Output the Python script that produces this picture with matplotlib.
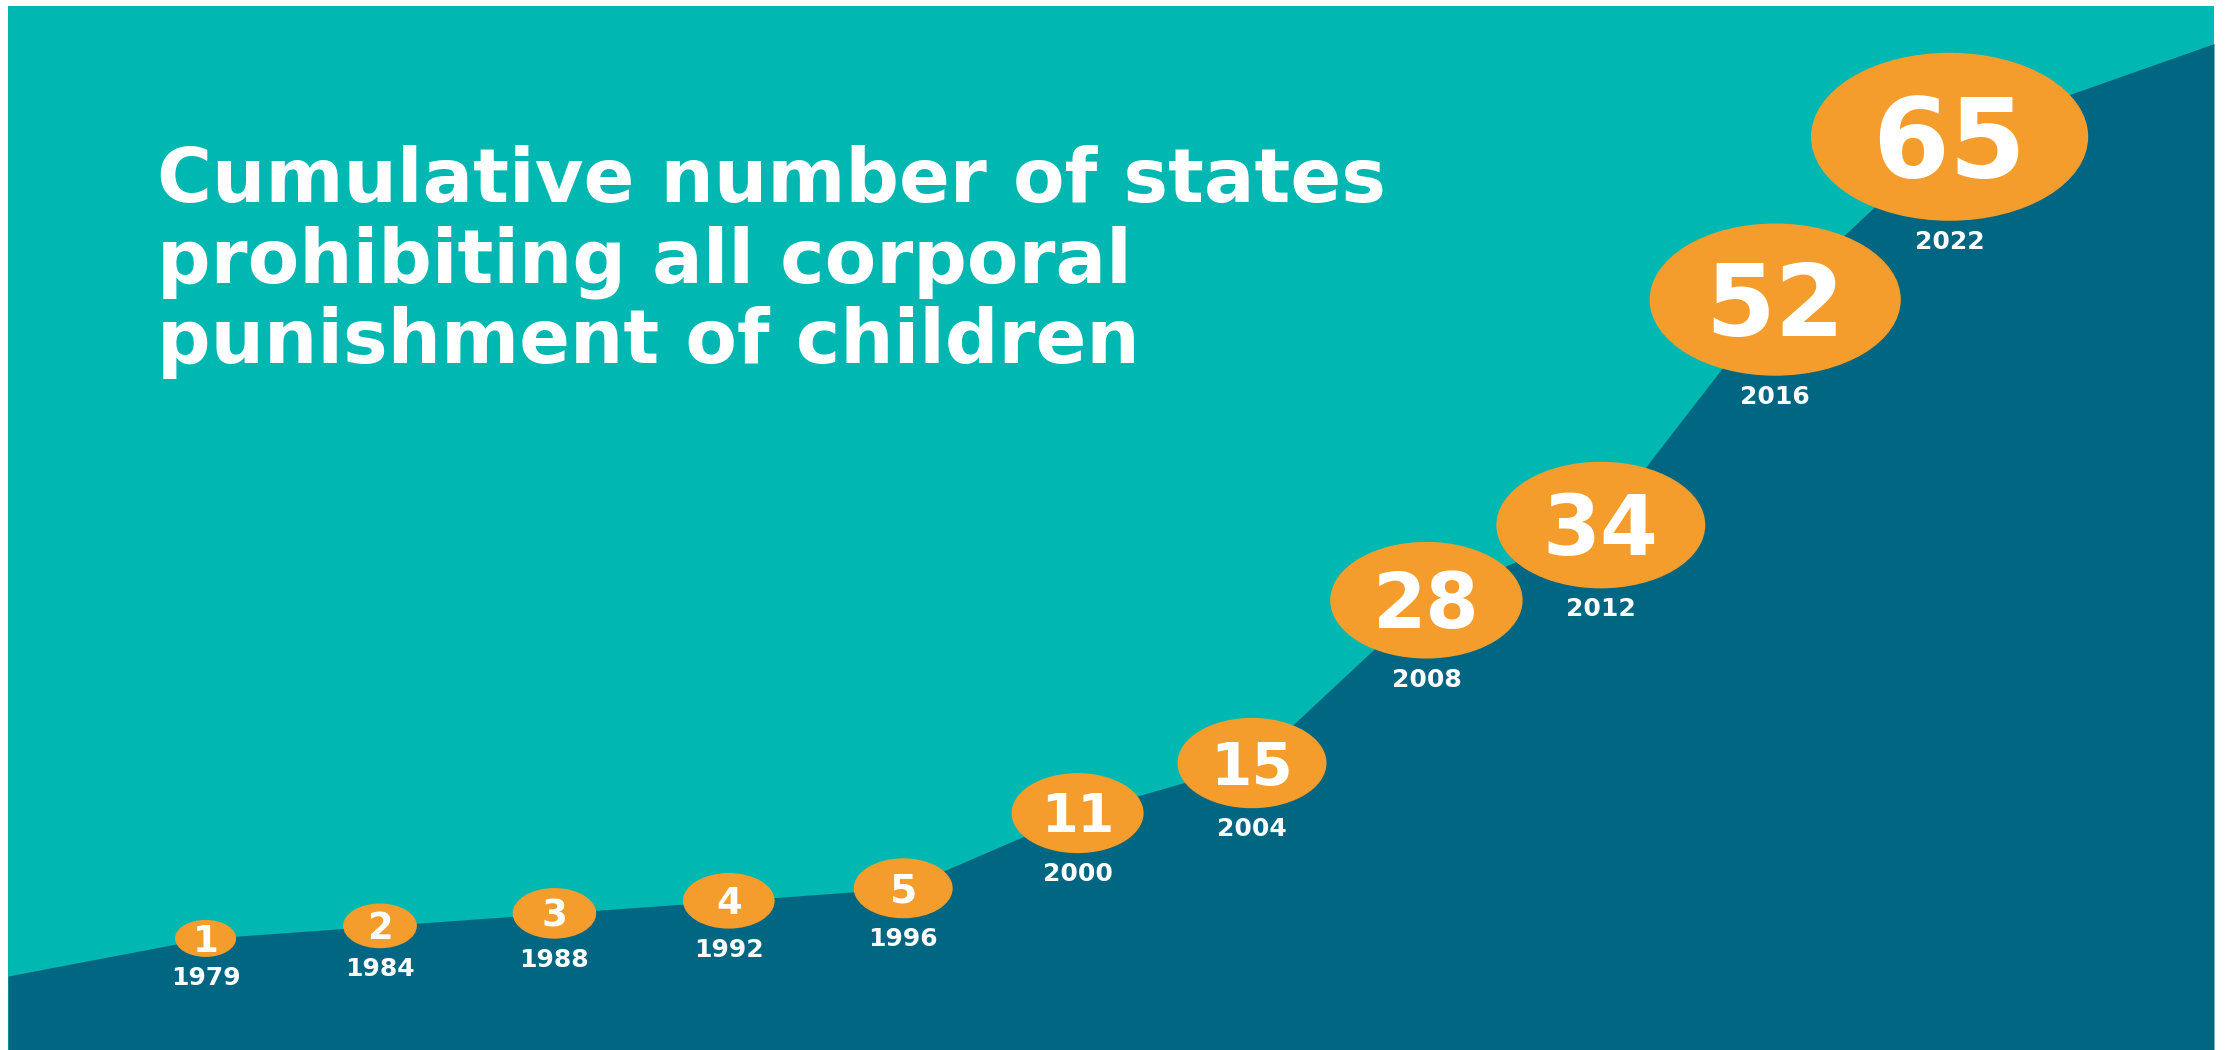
import numpy as np
import matplotlib.pyplot as plt
from matplotlib.patches import Ellipse

years = [1979, 1984, 1988, 1992, 1996, 2000, 2004, 2008, 2012, 2016, 2022]
states = [1, 2, 3, 4, 5, 11, 15, 28, 34, 52, 65]
title_lines = ['Cumulative number of states',
               'prohibiting all corporal',
               'punishment of children']

teal = '#00b8b1'
dark = '#006681'
orange = '#f59d2c'

W, H = 2227, 1050
fig = plt.figure(figsize=(W / 100, H / 100), dpi=100, facecolor='white')
ax = fig.add_axes([8 / W, 0, (2214 - 8) / W, (H - 6) / H])
ax.set_facecolor(teal)
for s in ax.spines.values():
    s.set_visible(False)
ax.set_xticks([])
ax.set_yticks([])

x = np.arange(len(states))
xlo, xhi = -1.133, 11.516
ylo, yhi = -7.91, 75.44
ax.set_xlim(xlo, xhi)
ax.set_ylim(ylo, yhi)

# dark area under the curve; the curve starts a bit under the first point
# and ends just below the top right corner
xs = np.concatenate([[xlo], x, [xhi]])
ys = np.concatenate([[states[0] - 3], states, [yhi - 3]])
ax.fill_between(xs, ys, ylo, color=dark, lw=0, zorder=1)

# pixels per data unit, to keep the bubbles a fixed shape on screen
bb = ax.get_window_extent()
sx = bb.width / (xhi - xlo)
sy = bb.height / (yhi - ylo)

for i, (yr, v) in enumerate(zip(years, states)):
    w = 30.5 + 30.6 * np.sqrt(v)   # bubble grows with sqrt of count
    h = w / 1.65
    ax.add_patch(Ellipse((x[i], v), w / sx, h / sy, color=orange, lw=0, zorder=3))
    cap = max(27, 0.48 * h)
    fs = cap / 0.729 * 0.72
    ax.annotate(str(v), (x[i], v), xytext=(0, -cap / 2), textcoords='offset pixels',
                ha='center', va='baseline', fontsize=fs, fontweight='bold',
                color='white', zorder=4)
    ax.annotate(str(yr), (x[i], v), xytext=(0, -(h / 2 + 9)), textcoords='offset pixels',
                ha='center', va='top', fontsize=18, fontweight='bold',
                color='white', zorder=4)

# title, three lines
for k, line in enumerate(title_lines):
    fig.text(157 / W, 1 - (202 + 80.5 * k) / H, line, ha='left', va='baseline',
             fontsize=54, fontweight='bold', color='white')

fig.savefig('out.png', dpi=100)
